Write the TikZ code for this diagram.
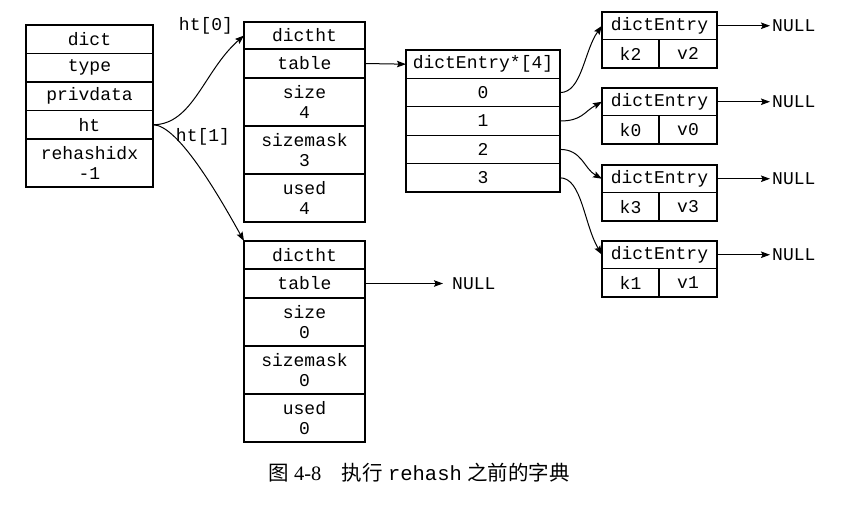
\documentclass[tikz,border=0pt]{standalone}
\usepackage{fontspec}
\setmainfont{Liberation Serif}
\setmonofont{Liberation Mono}
\newfontfamily\cjk{Noto Sans CJK SC}
\usepackage{tikz}
\usetikzlibrary{calc, arrows, positioning}
\usetikzlibrary{arrows.meta}

\tikzset{
    cell/.style={draw, line width=1.2pt, inner sep=0pt, outer sep=0pt, align=center,
        font=\ttfamily\fontsize{18}{20}\selectfont},
    tag/.style={inner sep=0pt, font=\ttfamily\fontsize{18}{20}\selectfont},
    ptr/.style={-{Stealth[length=9pt,width=6.5pt,inset=1.5pt]}, line width=1pt}
}

\begin{document}
\begin{tikzpicture}[x=1pt, y=-1pt]
        %輸出範圍
        \useasboundingbox (0,0) rectangle (844,504);

        % dict
        \node[cell, minimum width=127, minimum height=28.5, anchor=north] (dict) at (89.5,25) {dict};
        \node[cell, minimum width=127, minimum height=28.5, below=0pt of dict] (type) {type};
        \node[cell, minimum width=127, minimum height=28.5, below=0pt of type] (pdata) {privdata};
        \node[cell, minimum width=127, minimum height=28.5, below=0pt of pdata] (ht) {ht};
        \node[cell, minimum width=127, minimum height=48, below=0pt of ht] (idx) {rehashidx\\-1};

        % ht[0]
        \node[cell, minimum width=121, minimum height=27, anchor=north] (h0) at (304.5,22) {dictht};
        \node[cell, minimum width=121, minimum height=29, below=0pt of h0] (tab0) {table};
        \node[cell, minimum width=121, minimum height=48, below=0pt of tab0] (size0) {size\\4};
        \node[cell, minimum width=121, minimum height=48, below=0pt of size0] (mask0) {sizemask\\3};
        \node[cell, minimum width=121, minimum height=48, below=0pt of mask0] (used0) {used\\4};

        % ht[1]
        \node[cell, minimum width=121, minimum height=28, anchor=north] (h1) at (304.5,241) {dictht};
        \node[cell, minimum width=121, minimum height=29, below=0pt of h1] (tab1) {table};
        \node[cell, minimum width=121, minimum height=48, below=0pt of tab1] (size1) {size\\0};
        \node[cell, minimum width=121, minimum height=48, below=0pt of size1] (mask1) {sizemask\\0};
        \node[cell, minimum width=121, minimum height=48, below=0pt of mask1] (used1) {used\\0};

        \node[tag] (l0) at (206,26) {ht[0]};
        \node[tag] (l1) at (203,137) {ht[1]};

        \draw[ptr] (ht.east) .. controls +(40,0) and +(-40,35) .. (h0.west);
        \draw[ptr] (ht.east) .. controls +(25,0) and +(-25,-45) .. (h1.north west);

        % dictEntry*[4]
        \node[cell, minimum width=154, minimum height=28.4, anchor=north] (arr) at (483,50) {dictEntry*[4]};
        \node[cell, minimum width=154, minimum height=28.4, below=0pt of arr] (a0) {0};
        \node[cell, minimum width=154, minimum height=28.4, below=0pt of a0] (a1) {1};
        \node[cell, minimum width=154, minimum height=28.4, below=0pt of a1] (a2) {2};
        \node[cell, minimum width=154, minimum height=28.4, below=0pt of a2] (a3) {3};

        \draw[ptr] (tab0.east) -- (arr.west);

        \node[tag, anchor=west, inner xsep=9pt] (n4) at (443,283.5) {NULL};
        \draw[ptr] (tab1.east) -- (n4.west);

        \foreach \k/\v/\i/\y in
        {k2/v2/0/12, k0/v0/1/88, k3/v3/2/165, k1/v1/3/241}
        {
            \node[cell, minimum width=115, minimum height=27.5, anchor=north] (e\i) at (659.5,\y) {dictEntry};
            \node[cell, minimum width=57, minimum height=28.5, anchor=north west] (k\i) at (e\i.south west) {\k};
            \node[cell, minimum width=58, minimum height=28.5, anchor=north east] (v\i) at (e\i.south east) {\v};
            \node[tag, anchor=west, inner xsep=2pt] (n\i) at ($(e\i.east)+(53,0)$) {NULL};
            \draw[ptr] (e\i.east) -- (n\i.west);
        };

        \foreach \i/\c in
        {0/25, 1/10, 2/-10, 3/-30}
        {
            \draw[ptr] (a\i.east) .. controls +(22,0) and +(-18,\c) .. (e\i.west);
        };

        \node[font=\fontsize{20.5}{22}\selectfont] (cap) at (419,473)
            {{\cjk 图}~4-8\quad{\cjk 执行}~{\ttfamily rehash}~{\cjk 之前的字典}};

    \end{tikzpicture}
\end{document}
